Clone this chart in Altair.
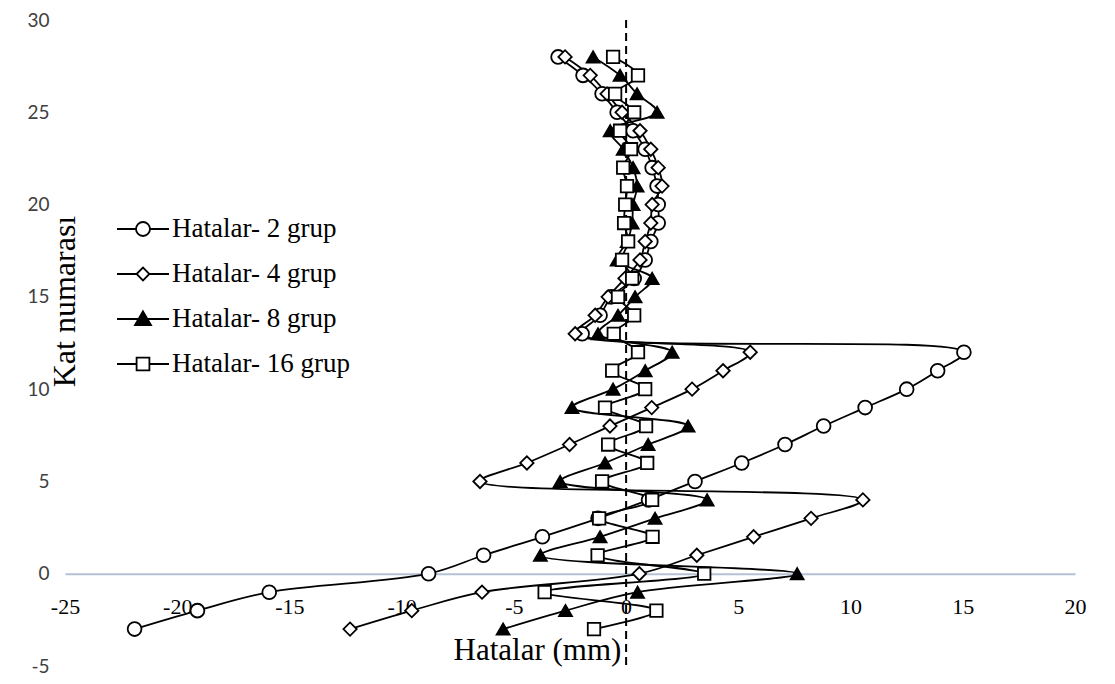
import altair as alt
import pandas as pd

# ---------------- data ----------------
kat = list(range(-3, 29))

g2 = [-21.9, -19.1, -15.9, -8.8, -6.35, -3.73, -1.25, 1.0, 3.07, 5.15, 7.08, 8.8,
      10.65, 12.5, 13.88, 15.05, -1.96, -1.16, -0.67, 0.36, 0.85, 1.1, 1.43, 1.43,
      1.38, 1.16, 0.85, 0.31, -0.4, -1.07, -1.92, -3.03]
g4 = [-12.3, -9.55, -6.42, 0.59, 3.15, 5.68, 8.24, 10.55, -6.51, -4.42, -2.52, -0.72,
      1.14, 2.94, 4.32, 5.53, -2.27, -1.38, -0.8, -0.05, 0.62, 0.85, 1.1, 1.16,
      1.6, 1.43, 1.1, 0.62, -0.18, -0.85, -1.6, -2.72]
g8 = [-5.48, -2.7, 0.51, 7.62, -3.82, -1.16, 1.29, 3.61, -2.94, -0.94, 0.98, 2.76,
      -2.41, -0.58, 0.85, 2.05, -1.25, -0.36, 0.4, 1.16, -0.4, 0.05, 0.27, 0.31,
      0.49, 0.31, -0.13, -0.71, 1.38, 0.49, -0.27, -1.47]
g16 = [-1.43, 1.35, -3.63, 3.48, -1.27, 1.18, -1.2, 1.16, -1.07, 0.94, -0.8, 0.89,
       -0.94, 0.85, -0.62, 0.53, -0.55, 0.36, -0.36, 0.27, -0.18, 0.09, -0.09, -0.04,
       0.04, -0.13, 0.22, -0.27, 0.36, -0.49, 0.53, -0.58]

series_names = ["Hatalar- 2 grup", "Hatalar- 4 grup", "Hatalar- 8 grup", "Hatalar- 16 grup"]
x_ticks = [-25, -20, -15, -10, -5, 0, 5, 10, 15, 20]
y_ticks = [-5, 0, 5, 10, 15, 20, 25, 30]

rows = []
for name, vals in zip(series_names, [g2, g4, g8, g16]):
    for k, v in zip(kat, vals):
        rows.append({"seri": name, "kat": k, "hata": v})
df = pd.DataFrame(rows)
leg_df = pd.DataFrame({"seri": series_names})
zero_df = pd.DataFrame({"x0": [0]})

# ---------------- styling ----------------
W, H = 1010, 646
xs = alt.Scale(domain=[-25, 20], nice=False, zero=False)
ys = alt.Scale(domain=[-5, 30], nice=False, zero=False)

point_shapes = ["circle", "diamond", "triangle-up", "square"]
point_fills = ["white", "white", "black", "white"]
point_strokes = ["black", "black", "black", "black"]
point_sizes = [190, 155, 225, 185]
legend_paths = [
    "M-1.3,0L-0.35,0M0.35,0L1.3,0M0.35,0A0.35,0.35,0,1,1,-0.35,0A0.35,0.35,0,1,1,0.35,0Z",
    "M-1.3,0L-0.32,0M0.32,0L1.3,0M-0.32,0L0,-0.32L0.32,0L0,0.32Z",
    "M-1.3,0L1.3,0M0,-0.38L0.4,0.3L-0.4,0.3Z",
    "M-1.3,0L-0.32,0M0.32,0L1.3,0M-0.32,-0.32L0.32,-0.32L0.32,0.32L-0.32,0.32Z",
]
hyphen_expr = "datum.value < 0 ? '-' + abs(datum.value) : '' + datum.value"

x_axis = alt.Axis(
    values=x_ticks, orient="bottom", offset=-H * 5 / 35,
    domainColor="#b4c2d6", domainWidth=2, ticks=False, grid=False,
    labelFont="Liberation Serif", labelFontSize=22, labelColor="black",
    labelPadding=23, labelFlush=False, labelExpr=hyphen_expr,
    title="Hatalar (mm)", titleFont="Liberation Serif", titleFontSize=31,
    titleFontWeight="normal", titleColor="black",
    titleX=472, titleY=86, titleBaseline="alphabetic", titleAlign="center",
)
y_axis = alt.Axis(
    values=y_ticks, domain=False, ticks=False, grid=False,
    labelFont="Lato", labelFontSize=19, labelColor="#404040", labelPadding=16,
    labelExpr=hyphen_expr,
    title="Kat numarası", titleFont="Liberation Serif", titleFontSize=32,
    titleFontWeight="normal", titleColor="black",
    titleX=9, titleY=281, titleAngle=270, titleBaseline="alphabetic", titleAlign="center",
)

lines = alt.Chart(df).mark_line(color="black", strokeWidth=1.8, interpolate="catmull-rom").encode(
    x=alt.X("hata:Q", scale=xs, axis=x_axis),
    y=alt.Y("kat:Q", scale=ys, axis=y_axis),
    detail="seri:N",
    order="kat:Q",
)

rule = alt.Chart(zero_df).mark_rule(color="black", strokeWidth=2, strokeDash=[8, 5]).encode(
    x=alt.X("x0:Q", scale=xs),
)

points = alt.Chart(df).mark_point(filled=True, stroke="black", strokeWidth=1.8, opacity=1).encode(
    x=alt.X("hata:Q", scale=xs),
    y=alt.Y("kat:Q", scale=ys),
    shape=alt.Shape("seri:N", scale=alt.Scale(domain=series_names, range=point_shapes), legend=None),
    fill=alt.Fill("seri:N", scale=alt.Scale(domain=series_names, range=point_fills), legend=None),
    size=alt.Size("seri:N", scale=alt.Scale(domain=series_names, range=point_sizes), legend=None),
)

leg = alt.Legend(
    orient="none", legendX=57, legendY=188, title=None,
    labelFont="Liberation Serif", labelFontSize=27, labelColor="black", labelLimit=400,
    symbolSize=1600, symbolStrokeWidth=1.8,
    symbolOpacity=1, rowPadding=11, labelOffset=8, padding=0,
)
legend_layer = alt.Chart(leg_df).mark_point(filled=True, opacity=0).encode(
    x=alt.value(0), y=alt.value(0),
    shape=alt.Shape("seri:N", scale=alt.Scale(domain=series_names, range=legend_paths), legend=leg),
    fill=alt.Fill("seri:N", scale=alt.Scale(domain=series_names, range=point_fills), legend=leg),
    stroke=alt.Stroke("seri:N", scale=alt.Scale(domain=series_names, range=point_strokes), legend=leg),
)

chart = alt.layer(lines, rule, points, legend_layer).resolve_scale(
    shape="independent", fill="independent", size="independent", stroke="independent"
).properties(
    width=W, height=H,
    padding={"left": 57, "top": 12, "right": 30, "bottom": 10},
    autosize=alt.AutoSizeParams(type="none"),
    background="white",
).configure_view(stroke=None)

chart.save("out.html", embed_options={"renderer": "svg", "actions": False})
